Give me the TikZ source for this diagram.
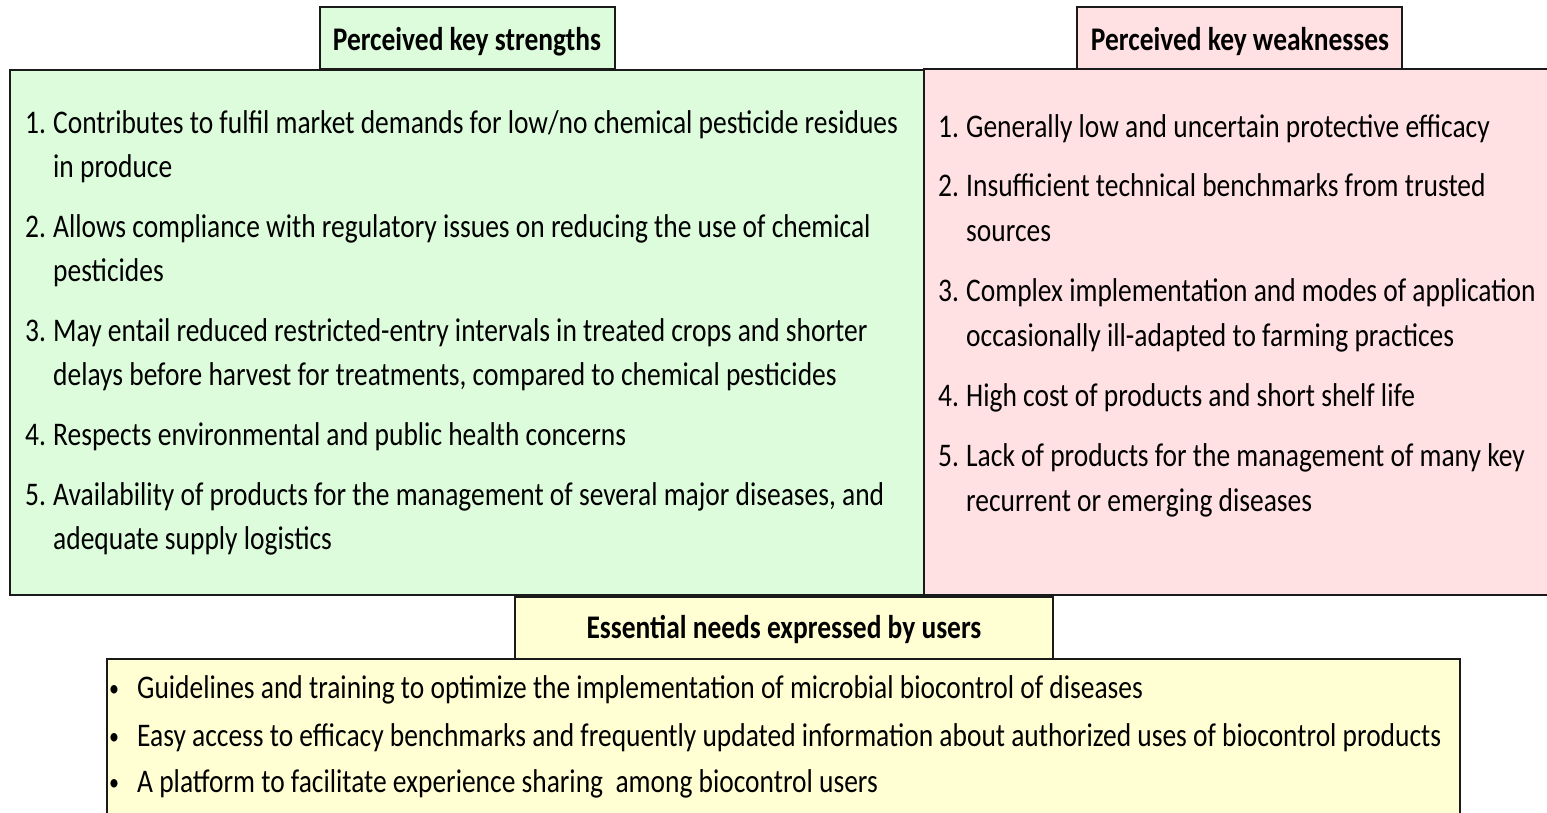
\documentclass[tikz,border=0pt]{standalone}
\usepackage{fontspec}
\setmainfont{Carlito}[FakeStretch=0.832]
\definecolor{gfill}{HTML}{DCFCDC}
\definecolor{pfill}{HTML}{FFE1E3}
\definecolor{yfill}{HTML}{FFFFD3}
\definecolor{edge}{HTML}{1A1A1A}
\begin{document}
\begin{tikzpicture}[x=1pt,y=-1pt,
  mainbox/.style={draw=edge, line width=1.6pt},
  titlebox/.style={draw=edge, line width=1.2pt},
  txt/.style={anchor=base west, inner sep=0pt, font=\fontsize{33}{44}\selectfont},
  bul/.style={anchor=base west, inner sep=0pt, font=\fontsize{24}{30}\selectfont},
  ttl/.style={anchor=base, inner sep=0pt, font=\fontsize{33}{44}\selectfont\bfseries}]
\useasboundingbox (0,0) rectangle (1547,812);
\clip (0,0) rectangle (1547,812);
% boxes
\draw[mainbox, fill=gfill] (10,70) rectangle (924,595);
\draw[mainbox, fill=pfill] (924,69) rectangle (1560,595);
\draw[titlebox, fill=gfill] (320,7) rectangle (615,69);
\draw[titlebox, fill=pfill] (1077,7) rectangle (1402,69);
\draw[titlebox, fill=yfill] (515,597) rectangle (1053,659);
\draw[mainbox, fill=yfill] (107,659) rectangle (1460,830);
% titles
\node[ttl] (tS) at (467,50) {Perceived key strengths};
\node[ttl] (tW) at (1240,50) {Perceived key weaknesses};
\node[ttl] (tN) at (784,638) {Essential needs expressed by users};
% strengths
\node[txt] (s1n) at (25,133) {1.};
\node[txt] (s1a) at (53,133) {Contributes to fulfil market demands for low/no chemical pesticide residues};
\node[txt] (s1b) at (53,177) {in produce};
\node[txt] (s2n) at (25,237) {2.};
\node[txt] (s2a) at (53,237) {Allows compliance with regulatory issues on reducing the use of chemical};
\node[txt] (s2b) at (53,281) {pesticides};
\node[txt] (s3n) at (25,341) {3.};
\node[txt] (s3a) at (53,341) {May entail reduced restricted-entry intervals in treated crops and shorter};
\node[txt] (s3b) at (53,385) {delays before harvest for treatments, compared to chemical pesticides};
\node[txt] (s4n) at (25,445) {4.};
\node[txt] (s4a) at (53,445) {Respects environmental and public health concerns};
\node[txt] (s5n) at (25,505) {5.};
\node[txt] (s5a) at (53,505) {Availability of products for the management of several major diseases, and};
\node[txt] (s5b) at (53,549) {adequate supply logistics};
% weaknesses
\node[txt] (w1n) at (938,137) {1.};
\node[txt] (w1a) at (966,137) {Generally low and uncertain protective efficacy};
\node[txt] (w2n) at (938,196) {2.};
\node[txt] (w2a) at (966,196) {Insufficient technical benchmarks from trusted};
\node[txt] (w2b) at (966,241) {sources};
\node[txt] (w3n) at (938,301) {3.};
\node[txt] (w3a) at (966,301) {Complex implementation and modes of application};
\node[txt] (w3b) at (966,346) {occasionally ill-adapted to farming practices};
\node[txt] (w4n) at (938,406) {4.};
\node[txt] (w4a) at (966,406) {High cost of products and short shelf life};
\node[txt] (w5n) at (938,466) {5.};
\node[txt] (w5a) at (966,466) {Lack of products for the management of many key};
\node[txt] (w5b) at (966,511) {recurrent or emerging diseases};
% needs
\node[bul] (n1b) at (109,696) {•};
\node[txt] (n1a) at (137,698) {Guidelines and training to optimize the implementation of microbial biocontrol of diseases};
\node[bul] (n2b) at (109,744) {•};
\node[txt] (n2a) at (137,746) {Easy access to efficacy benchmarks and frequently updated information about authorized uses of biocontrol products};
\node[bul] (n3b) at (109,790) {•};
\node[txt] (n3a) at (137,792) {A platform to facilitate experience sharing\ \ among biocontrol users};
\end{tikzpicture}
\end{document}
